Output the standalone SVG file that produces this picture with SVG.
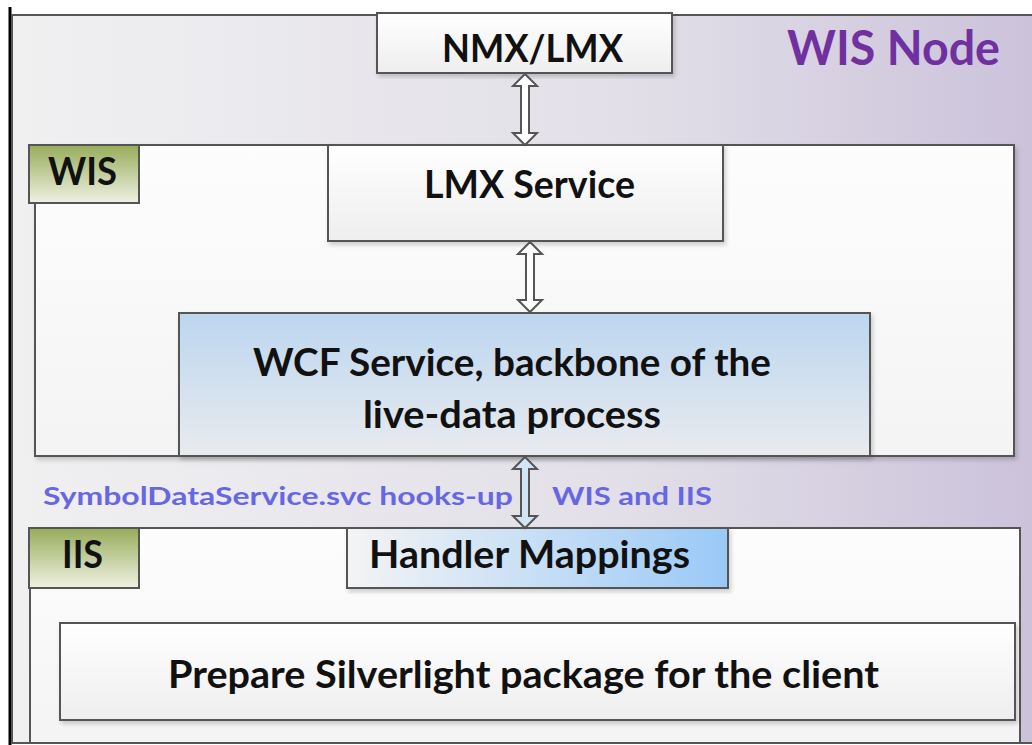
<svg xmlns="http://www.w3.org/2000/svg" width="1032" height="745" viewBox="0 0 1032 745">
<defs>
<linearGradient id="gOuter" x1="0" y1="0" x2="1" y2="0">
<stop offset="0" stop-color="#f0f0f1"/>
<stop offset="0.6" stop-color="#e2dfe8"/>
<stop offset="1" stop-color="#cbc2da"/>
</linearGradient>
<linearGradient id="gWhite" x1="0" y1="0" x2="0" y2="1">
<stop offset="0" stop-color="#ffffff"/>
<stop offset="1" stop-color="#eeeeee"/>
</linearGradient>
<linearGradient id="gPanel" x1="0" y1="0" x2="0" y2="1">
<stop offset="0" stop-color="#fdfdfd"/>
<stop offset="1" stop-color="#f4f4f4"/>
</linearGradient>
<linearGradient id="gOlive" x1="0" y1="0" x2="0" y2="1">
<stop offset="0" stop-color="#97ac5a"/>
<stop offset="1" stop-color="#eff1e3"/>
</linearGradient>
<linearGradient id="gWcf" x1="0" y1="0" x2="0" y2="1">
<stop offset="0" stop-color="#bcd6f0"/>
<stop offset="1" stop-color="#e9ebee"/>
</linearGradient>
<linearGradient id="gHandler" x1="0" y1="0" x2="1" y2="0">
<stop offset="0" stop-color="#f4f4f4"/>
<stop offset="1" stop-color="#9ac9f7"/>
</linearGradient>
<filter id="sh" x="-5%" y="-5%" width="110%" height="115%">
<feDropShadow dx="2" dy="3" stdDeviation="2" flood-color="#000" flood-opacity="0.18"/>
</filter>
</defs>
<style>
.box{stroke:#555;stroke-width:2}
.t{font-family:Lato,"Open Sans","Liberation Sans",sans-serif;font-weight:700;fill:#111}
.blue{font-family:Lato,"Open Sans","Liberation Sans",sans-serif;font-weight:700;fill:#6767e4;font-size:25px}
.arr{stroke:#555;stroke-width:2;stroke-linejoin:miter}
</style>
<rect width="1032" height="745" fill="#ffffff"/>
<line x1="10" y1="7" x2="10" y2="745" stroke="#000" stroke-width="3"/>

<g id="wis-node">
<rect class="box" x="12" y="15" width="1030" height="728" fill="url(#gOuter)"/>
<text class="t" x="787" y="65" font-size="47" style="fill:#7030a0" textLength="213" lengthAdjust="spacingAndGlyphs">WIS Node</text>
</g>

<g id="nmx-lmx">
<rect class="box" x="377" y="13" width="295" height="60" fill="url(#gWhite)" filter="url(#sh)"/>
<text class="t" x="442" y="62" font-size="38" textLength="181" lengthAdjust="spacingAndGlyphs">NMX/LMX</text>
</g>

<g id="wis">
<rect class="box" x="35" y="145" width="979" height="311" fill="url(#gPanel)" filter="url(#sh)"/>
<rect class="box" x="29" y="145" width="110" height="58" fill="url(#gOlive)"/>
<text class="t" x="48" y="185" font-size="38" textLength="69" lengthAdjust="spacingAndGlyphs">WIS</text>
</g>

<g id="lmx-service">
<rect class="box" x="328" y="145" width="395" height="96" fill="url(#gWhite)" filter="url(#sh)"/>
<text class="t" x="424" y="198" font-size="38" textLength="211" lengthAdjust="spacingAndGlyphs">LMX Service</text>
</g>

<g id="wcf-service">
<rect class="box" x="179" y="313" width="691" height="143" fill="url(#gWcf)" filter="url(#sh)"/>
<text class="t" x="253" y="376" font-size="38" textLength="518" lengthAdjust="spacingAndGlyphs">WCF Service, backbone of the</text>
<text class="t" x="363" y="428" font-size="38" textLength="298" lengthAdjust="spacingAndGlyphs">live-data process</text>
</g>

<g id="iis">
<rect class="box" x="30" y="528" width="990" height="215" fill="url(#gPanel)"/>
<rect class="box" x="29" y="528" width="110" height="60" fill="url(#gOlive)"/>
<text class="t" x="62" y="568" font-size="38" textLength="41" lengthAdjust="spacingAndGlyphs">IIS</text>
</g>

<g id="handler-mappings">
<rect class="box" x="347" y="528" width="381" height="60" fill="url(#gHandler)" filter="url(#sh)"/>
<text class="t" x="369" y="568" font-size="38" textLength="321" lengthAdjust="spacingAndGlyphs">Handler Mappings</text>
</g>

<g id="prepare">
<rect class="box" x="60" y="623" width="955" height="97" fill="url(#gWhite)" filter="url(#sh)"/>
<text class="t" x="168" y="688" font-size="38" textLength="711" lengthAdjust="spacingAndGlyphs">Prepare Silverlight package for the client</text>
</g>

<g id="connectors">
<path class="arr" fill="#ffffff" d="M525,74 L537,86 L529,86 L529,133 L537,133 L525,145 L513,133 L521,133 L521,86 L513,86 Z"/>
<path class="arr" fill="#ffffff" d="M530,242 L542,254 L534,254 L534,300 L542,300 L530,312 L518,300 L526,300 L526,254 L518,254 Z"/>
<path class="arr" fill="#d2e5f6" d="M525,457 L537,469 L529,469 L529,516 L537,516 L525,528 L513,516 L521,516 L521,469 L513,469 Z"/>
<text class="blue" x="43" y="505" textLength="470" lengthAdjust="spacingAndGlyphs">SymbolDataService.svc hooks-up</text>
<text class="blue" x="552" y="505" textLength="160" lengthAdjust="spacingAndGlyphs">WIS and IIS</text>
</g>
</svg>
